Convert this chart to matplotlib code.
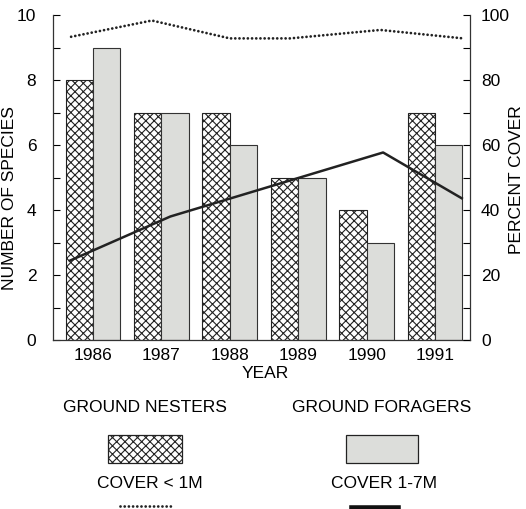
import matplotlib.pyplot as plt
from matplotlib.patches import Rectangle
from matplotlib.lines import Line2D
import numpy as np

plt.rcParams['font.family'] = ['Liberation Sans', 'DejaVu Sans']
plt.rcParams['hatch.linewidth'] = 0.8

years = [1986, 1987, 1988, 1989, 1990, 1991]
ground_nesters = [8, 7, 7, 5, 4, 7]
ground_foragers = [9, 7, 6, 5, 3, 6]

# cover lines (percent), sampled where the curve bends
cover_lt1_year = [1985.68, 1986.86, 1988.0, 1988.88, 1990.2, 1991.41]
cover_lt1 = [93.3, 98.3, 92.8, 92.8, 95.4, 92.8]
cover_1_7_year = [1985.66, 1987.13, 1990.24, 1991.39]
cover_1_7 = [24.4, 38.0, 57.7, 43.6]

W, H = 526, 509
fig = plt.figure(figsize=(W / 100, H / 100), dpi=100)
ax = fig.add_axes([53 / W, 1 - 340 / H, (470 - 53) / W, 325 / H])

gray = '#dcddda'
dots = (0, (0.01, 1.5))

x = np.arange(len(years))
w = 0.4
ax.bar(x - w / 2, ground_nesters, w, facecolor='white', edgecolor='#222222',
       hatch='xxxx', linewidth=0.8, zorder=2)
ax.bar(x + w / 2, ground_foragers, w, facecolor=gray, edgecolor='#333333',
       linewidth=0.8, zorder=2)

ax.set_xlim(-0.585, 5.51)
ax.set_ylim(0, 10)
ax.set_xticks(x)
ax.set_xticklabels([str(y) for y in years])
ax.set_yticks(range(0, 11, 2))
ax.set_yticks(range(1, 10, 2), minor=True)
ax.tick_params(axis='x', length=0, pad=6, labelsize=12.5)
ax.tick_params(axis='y', which='both', direction='in', length=5, width=0.8,
               pad=12, labelsize=12.5)
for s in ['top', 'right']:
    ax.spines[s].set_visible(False)
for s in ['left', 'bottom']:
    ax.spines[s].set_linewidth(0.9)
    ax.spines[s].set_color('#333333')
ax.set_xlabel('YEAR', fontsize=12.5)
ax.xaxis.set_label_coords(0.51, -0.08)
ax.set_ylabel('NUMBER OF SPECIES', fontsize=12.5)
ax.yaxis.set_label_coords(-0.086, 0.437)

ax2 = ax.twinx()
ax2.plot(np.array(cover_lt1_year) - years[0], cover_lt1, color='#222222',
         linestyle=dots, linewidth=2, dash_capstyle='round', zorder=3)
ax2.plot(np.array(cover_1_7_year) - years[0], cover_1_7, color='#222222',
         linewidth=1.8, zorder=3)
ax2.set_ylim(0, 100)
ax2.set_yticks(range(0, 101, 20))
ax2.set_yticks(range(10, 100, 20), minor=True)
ax2.tick_params(axis='y', which='both', direction='in', length=5, width=0.8,
                pad=8, labelsize=12.5)
for s in ['top', 'left', 'bottom']:
    ax2.spines[s].set_visible(False)
ax2.spines['right'].set_linewidth(0.9)
ax2.spines['right'].set_color('#333333')
ax2.set_ylabel('PERCENT COVER', fontsize=12.5)
ax2.yaxis.set_label_coords(1.093, 0.495)

# legend below the chart
def fx(px):
    return px / W

def fy(py):
    return 1 - py / H

fig.text(fx(145), fy(408), 'GROUND NESTERS', ha='center', va='center', fontsize=12.5)
fig.text(fx(382), fy(408), 'GROUND FORAGERS', ha='center', va='center', fontsize=12.5)
fig.add_artist(Rectangle((fx(108), fy(463)), 74 / W, 28 / H, transform=fig.transFigure,
                         facecolor='white', edgecolor='#222222', hatch='xxxx', linewidth=0.9))
fig.add_artist(Rectangle((fx(346), fy(463)), 72 / W, 28 / H, transform=fig.transFigure,
                         facecolor=gray, edgecolor='#222222', linewidth=0.9))
fig.text(fx(150), fy(484), 'COVER < 1M', ha='center', va='center', fontsize=12.5)
fig.text(fx(384), fy(484), 'COVER 1-7M', ha='center', va='center', fontsize=12.5)
fig.add_artist(Line2D([fx(120), fx(172)], [fy(506), fy(506)], transform=fig.transFigure,
                      color='#222222', linestyle=dots, linewidth=2,
                      dash_capstyle='round'))
fig.add_artist(Line2D([fx(352), fx(398)], [fy(508), fy(508)], transform=fig.transFigure,
                      color='#111111', linewidth=4))

fig.savefig('out.png', dpi=100)
